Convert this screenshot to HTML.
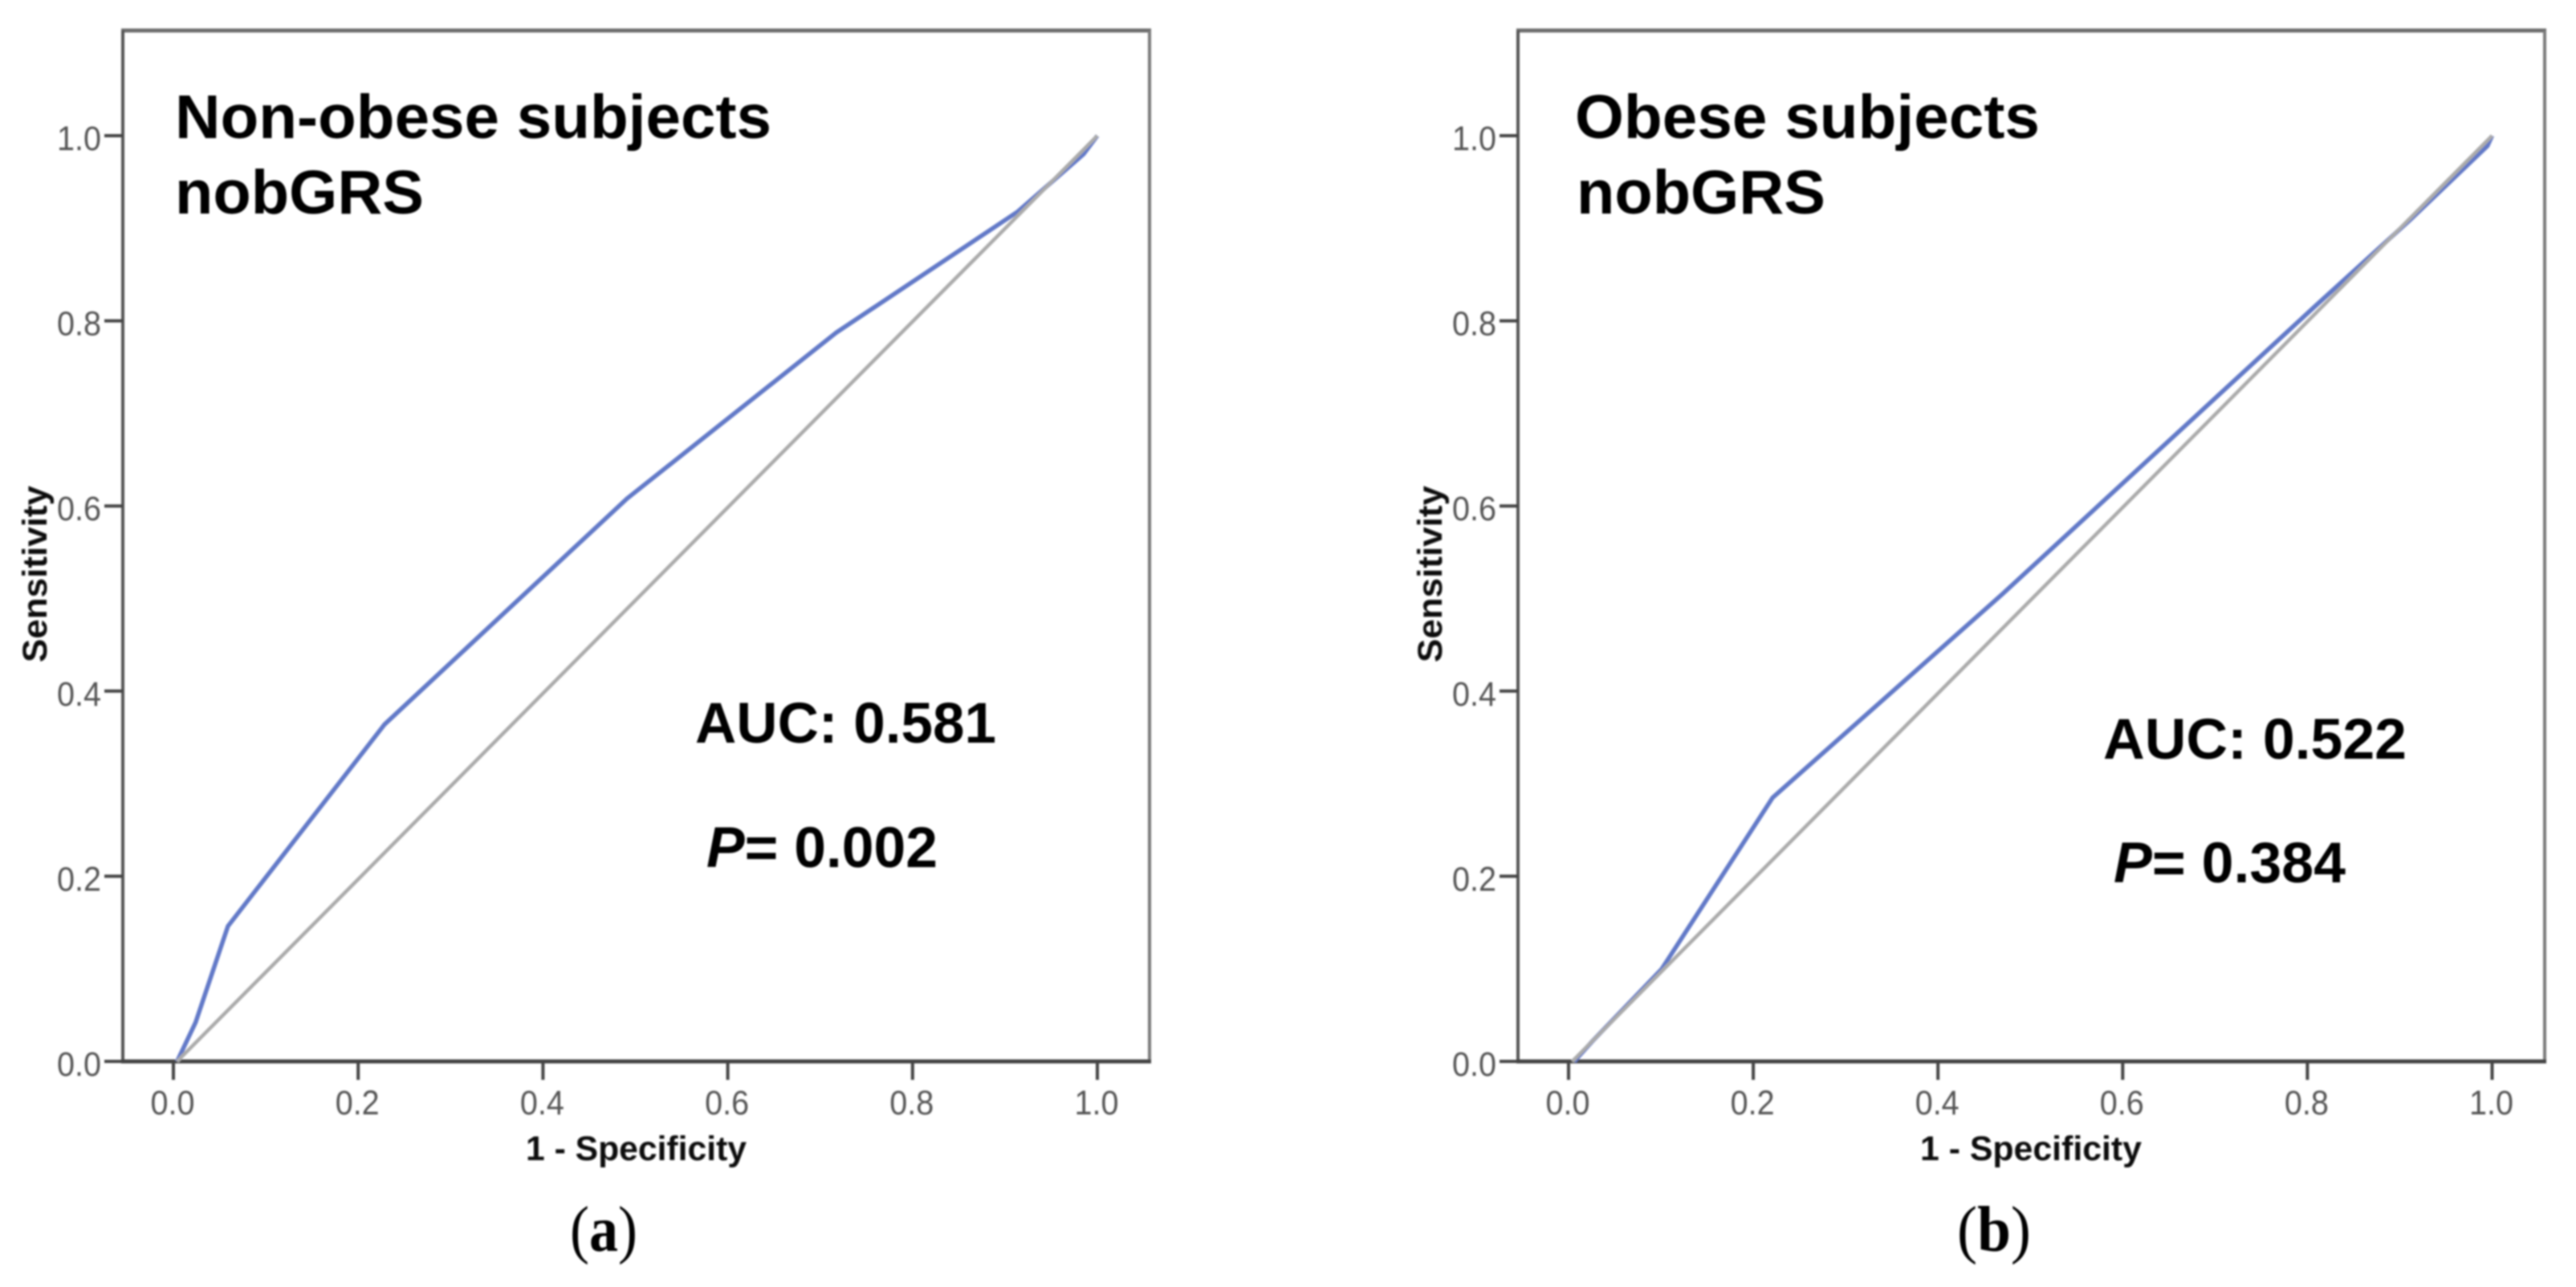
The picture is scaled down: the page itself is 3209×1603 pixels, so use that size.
<!DOCTYPE html>
<html lang="en">
<head>
<meta charset="utf-8">
<title>ROC curves for nobGRS</title>
<style>
  html, body { margin: 0; padding: 0; background: #fff; }
  svg { display: block; }
  text { font-family: "Liberation Sans", Arial, sans-serif; }
  .annot { font-weight: 700; fill: #000; }
  .tick-label { font-size: 43px; fill: #555; }
  .axis-title { font-size: 43px; font-weight: 700; fill: #111; }
  .caption { font-family: "Liberation Serif", "Times New Roman", serif; font-size: 80px; fill: #000; }
</style>
</head>
<body>
<svg id="chart" xmlns="http://www.w3.org/2000/svg" width="3209" height="1603" viewBox="0 0 3209 1603">
  <defs>
    <filter id="soft" x="-2%" y="-2%" width="104%" height="104%"><feGaussianBlur stdDeviation="1.1"/></filter>
  </defs>
  <rect x="0" y="0" width="3209" height="1603" fill="#fff"/>
  <g id="root" filter="url(#soft)">
    <g id="panel-a">
      <text class="annot" x="218" y="172" font-size="77" textLength="743" lengthAdjust="spacingAndGlyphs">Non-obese subjects</text>
      <text class="annot" x="218" y="266" font-size="77" textLength="310" lengthAdjust="spacingAndGlyphs">nobGRS</text>
      <text class="annot" x="866" y="925" font-size="71" textLength="375" lengthAdjust="spacingAndGlyphs">AUC: 0.581</text>
      <text class="annot" x="880" y="1080" font-size="71" textLength="288" lengthAdjust="spacingAndGlyphs"><tspan font-style="italic">P</tspan>= 0.002</text>
      <text class="axis-title" x="655" y="1445" textLength="275" lengthAdjust="spacingAndGlyphs">1 - Specificity</text>
      <text class="axis-title" transform="translate(58 825) rotate(-90)" x="0" y="0" textLength="220" lengthAdjust="spacingAndGlyphs">Sensitivity</text>
      <text class="caption" x="710" y="1558" textLength="84" lengthAdjust="spacingAndGlyphs">(<tspan font-weight="700">a</tspan>)</text>
    </g>
    <g id="panel-b">
      <text class="annot" x="1962" y="172" font-size="77" textLength="579" lengthAdjust="spacingAndGlyphs">Obese subjects</text>
      <text class="annot" x="1964" y="266" font-size="77" textLength="310" lengthAdjust="spacingAndGlyphs">nobGRS</text>
      <text class="annot" x="2620" y="945" font-size="71" textLength="378" lengthAdjust="spacingAndGlyphs">AUC: 0.522</text>
      <text class="annot" x="2633" y="1099" font-size="71" textLength="289" lengthAdjust="spacingAndGlyphs"><tspan font-style="italic">P</tspan>= 0.384</text>
      <text class="axis-title" x="2392" y="1445" textLength="276" lengthAdjust="spacingAndGlyphs">1 - Specificity</text>
      <text class="axis-title" transform="translate(1796 825) rotate(-90)" x="0" y="0" textLength="220" lengthAdjust="spacingAndGlyphs">Sensitivity</text>
      <text class="caption" x="2438" y="1558" textLength="92" lengthAdjust="spacingAndGlyphs">(<tspan font-weight="700">b</tspan>)</text>
    </g>
  </g>
</svg>
<script>
const tickValues = [0, 0.2, 0.4, 0.6, 0.8, 1];
const tickLabels = ['0.0', '0.2', '0.4', '0.6', '0.8', '1.0'];
const referenceFpr = [0.004, 1];
const referenceTpr = [0, 1];
const panelAFpr = [0.004, 0.024, 0.059, 0.2285, 0.491, 0.717, 0.914, 0.985, 1];
const panelATpr = [0, 0.042, 0.146, 0.364, 0.608, 0.787, 0.918, 0.98, 1];
const panelBFpr = [0.006, 0.026, 0.1008, 0.221, 0.47, 0.8075, 0.91, 0.995, 1];
const panelBTpr = [0, 0.022, 0.0997, 0.285, 0.505, 0.815, 0.908, 0.989, 1];

const NS = 'http://www.w3.org/2000/svg';

function lineEl(parent, x1, y1, x2, y2, stroke, width) {
  const el = document.createElementNS(NS, 'line');
  el.setAttribute('x1', x1);
  el.setAttribute('y1', y1);
  el.setAttribute('x2', x2);
  el.setAttribute('y2', y2);
  el.setAttribute('stroke', stroke);
  el.setAttribute('stroke-width', width);
  parent.appendChild(el);
  return el;
}

function curve(parent, xs, ys, sx, sy, stroke, width) {
  const el = document.createElementNS(NS, 'polyline');
  el.setAttribute('points', xs.map((v, i) => sx(v).toFixed(1) + ',' + sy(ys[i]).toFixed(1)).join(' '));
  el.setAttribute('fill', 'none');
  el.setAttribute('stroke', stroke);
  el.setAttribute('stroke-width', width);
  el.setAttribute('stroke-linejoin', 'round');
  parent.appendChild(el);
  return el;
}

function label(parent, x, y, anchor, txt) {
  const el = document.createElementNS(NS, 'text');
  el.setAttribute('class', 'tick-label');
  el.setAttribute('x', x);
  el.setAttribute('y', y);
  el.setAttribute('text-anchor', anchor);
  el.setAttribute('textLength', 55);
  el.setAttribute('lengthAdjust', 'spacingAndGlyphs');
  el.textContent = txt;
  parent.appendChild(el);
  return el;
}

function drawPanel(id, box, fpr, tpr) {
  const g = document.getElementById(id);
  const layer = document.createElementNS(NS, 'g');
  g.insertBefore(layer, g.firstChild);
  const sx = v => box.x0 + v * (box.x1 - box.x0);
  const sy = v => box.y0 + v * (box.y1 - box.y0);

  const top = lineEl(layer, box.left - 2, box.top, box.right + 2, box.top, '#6e6e6e', 5);
  
  
  const right = lineEl(layer, box.right, box.top, box.right, box.bottom, '#7a7a7a', 4);
  
  
  const left = lineEl(layer, box.left, box.top, box.left, box.bottom, '#555', 4);
  
  
  const bottom = lineEl(layer, box.left - 2, box.bottom, box.right + 2, box.bottom, '#444', 5);
  
  

  tickValues.forEach((v, i) => {
    const xt = lineEl(layer, sx(v), box.bottom, sx(v), box.bottom + 23, '#444', 4);
    
    
    const xl = label(layer, sx(v) - 1, box.bottom + 66, 'middle', tickLabels[i]);
    
    
    const yt = lineEl(layer, box.left - 23, sy(v), box.left, sy(v), '#444', 4);
    
    
    const yl = label(layer, box.left - 27, sy(v) + 18, 'end', tickLabels[i]);
    
    
  });

  const roc = curve(layer, fpr, tpr, sx, sy, '#6279c8', 5.5);
  
  
  const ref = curve(layer, referenceFpr, referenceTpr, sx, sy, '#ababab', 4.5);
  
  
}

drawPanel('panel-a', { left: 153, right: 1432, top: 38, bottom: 1322, x0: 216, x1: 1367, y0: 1322, y1: 169 }, panelAFpr, panelATpr);
drawPanel('panel-b', { left: 1891, right: 3170, top: 38, bottom: 1322, x0: 1954, x1: 3104.5, y0: 1322, y1: 169 }, panelBFpr, panelBTpr);
</script>
</body>
</html>
